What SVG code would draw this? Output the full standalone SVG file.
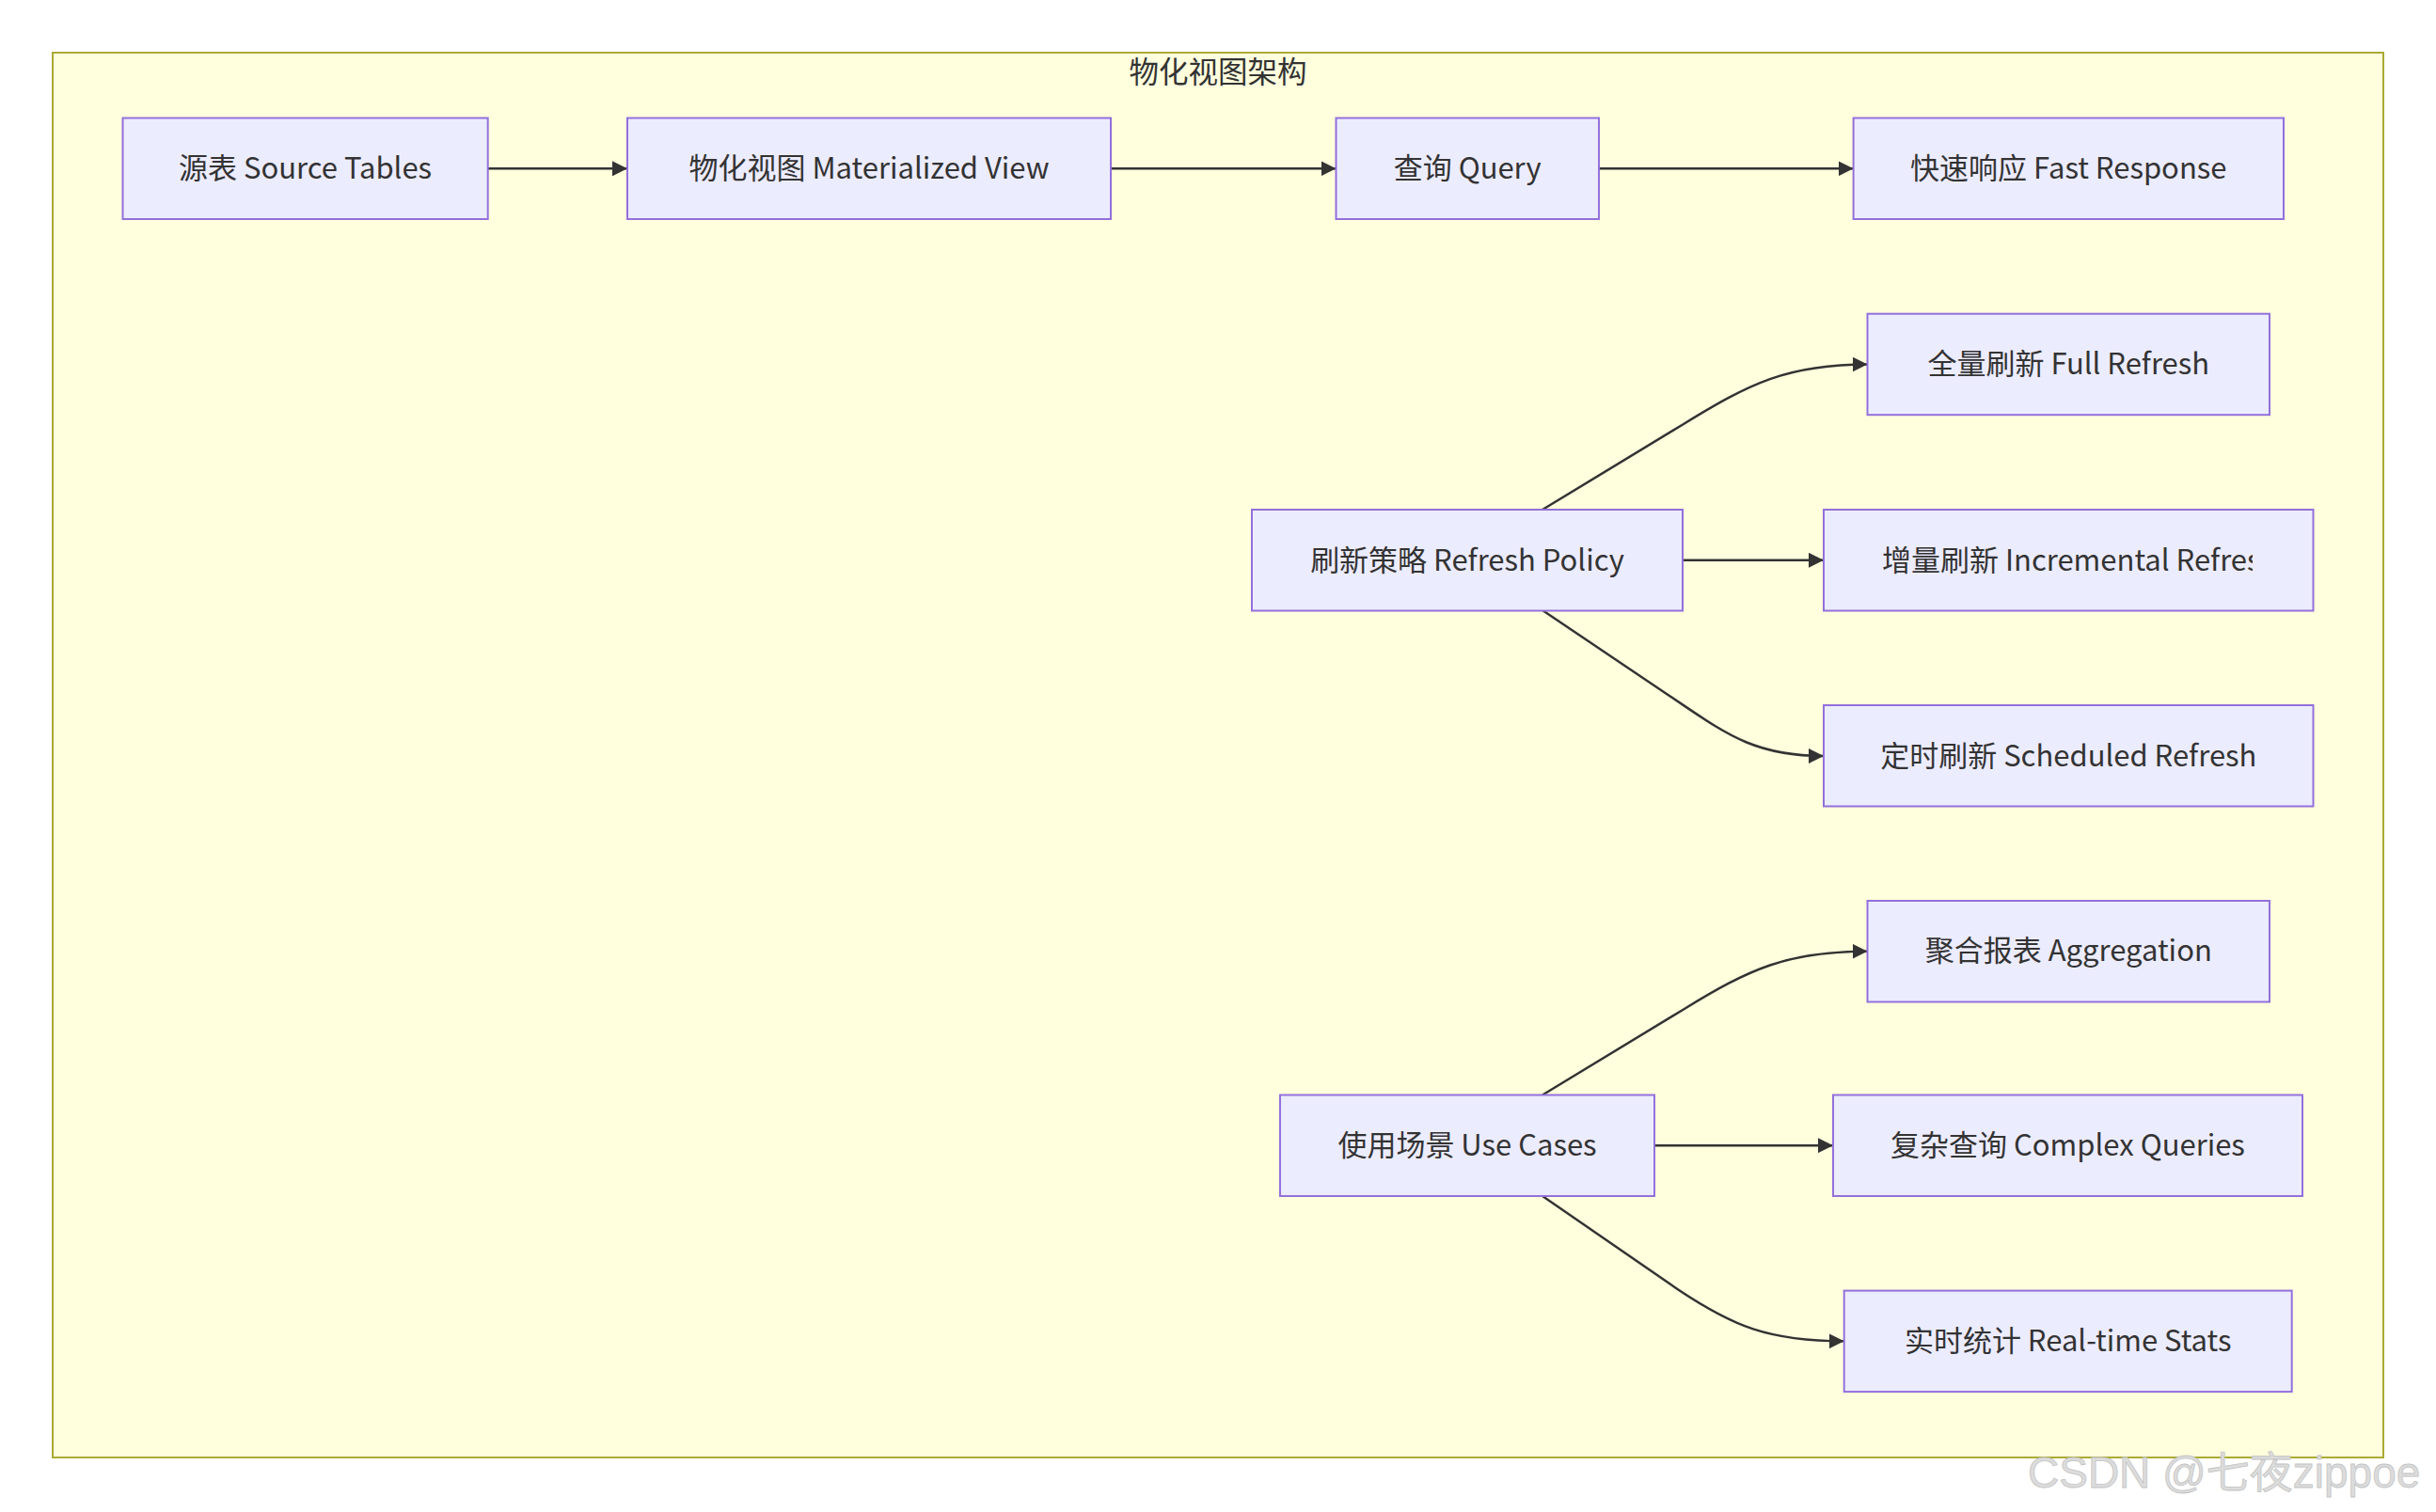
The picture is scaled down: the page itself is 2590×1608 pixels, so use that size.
<svg xmlns="http://www.w3.org/2000/svg" width="2590" height="1608" viewBox="0 0 2590 1608">
<style>
.frame{fill:#FFFFDE;stroke:#AAAA33;stroke-width:2}
.node rect{fill:#ECECFF;stroke:#9370DB;stroke-width:2}
.lbl{font-family:"Noto Sans CJK SC","Noto Sans",sans-serif;font-size:31px;fill:#333333;text-anchor:middle;dominant-baseline:central}
.title{font-family:"Noto Sans CJK SC","Noto Sans",sans-serif;font-size:31.5px;fill:#333333;text-anchor:middle}
.edge{fill:none;stroke:#333333;stroke-width:2.5;marker-end:url(#arrow)}
.wm{font-family:"Liberation Sans","Noto Sans CJK SC",sans-serif;font-size:46px;fill:#dcdcdc;stroke:#c4c4c4;stroke-width:0.8}
</style>
<defs>
<marker id="arrow" viewBox="0 0 10 10" refX="10" refY="5" markerUnits="userSpaceOnUse" markerWidth="16" markerHeight="16" orient="auto">
<path d="M0,0 L10,5 L0,10 z" fill="#333333"/>
</marker>
<clipPath id="clipInc"><rect x="1990" y="542" width="405" height="107"/></clipPath>
</defs>
<rect width="2590" height="1608" fill="#ffffff"/>
<g id="cluster">
<rect class="frame" x="56" y="56" width="2478" height="1494"/>
<text class="title" x="1295" y="88">物化视图架构</text>
</g>
<g id="connectors">
<path class="edge" d="M518.7,179.3 L667,179.3"/>
<path class="edge" d="M1181,179.3 L1420.5,179.3"/>
<path class="edge" d="M1700,179.3 L1970.6,179.3"/>
<path class="edge" d="M1640,542 L1790,451 C1860,408 1900,387.5 1985.5,387.5"/>
<path class="edge" d="M1789,595.8 L1939,595.8"/>
<path class="edge" d="M1640,649 L1772,738 C1832,778 1862,804 1939,804"/>
<path class="edge" d="M1640,1164.5 L1790,1073.5 C1860,1030.5 1900,1011.7 1985.5,1011.7"/>
<path class="edge" d="M1759,1218.2 L1949,1218.2"/>
<path class="edge" d="M1640,1272 L1785,1372 C1842,1410 1880,1426.3 1960.7,1426.3"/>
</g>
<g id="source" class="node"><rect x="130.5" y="125.5" width="388.2" height="107.5"/><text class="lbl" x="324.6" y="176.5">源表 Source Tables</text></g>
<g id="mview" class="node"><rect x="667" y="125.5" width="514" height="107.5"/><text class="lbl" x="924" y="176.5">物化视图 Materialized View</text></g>
<g id="query" class="node"><rect x="1420.5" y="125.5" width="279.5" height="107.5"/><text class="lbl" x="1560.2" y="176.5">查询 Query</text></g>
<g id="fast" class="node"><rect x="1970.6" y="125.5" width="457.4" height="107.5"/><text class="lbl" x="2199.3" y="176.5">快速响应 Fast Response</text></g>
<g id="full" class="node"><rect x="1985.5" y="333.7" width="427.5" height="107.5"/><text class="lbl" x="2199.3" y="384.7">全量刷新 Full Refresh</text></g>
<g id="policy" class="node"><rect x="1331" y="542" width="458" height="107.5"/><text class="lbl" x="1560" y="593">刷新策略 Refresh Policy</text></g>
<g id="incr" class="node"><rect x="1939" y="542" width="520.5" height="107.5"/><text class="lbl" x="2001" y="593" style="text-anchor:start" clip-path="url(#clipInc)">增量刷新 Incremental Refresh</text></g>
<g id="sched" class="node"><rect x="1939" y="750" width="520.5" height="107.5"/><text class="lbl" x="2199.3" y="801.2">定时刷新 Scheduled Refresh</text></g>
<g id="agg" class="node"><rect x="1985.5" y="958" width="427.5" height="107.5"/><text class="lbl" x="2199.3" y="1008.9">聚合报表 Aggregation</text></g>
<g id="usecases" class="node"><rect x="1361" y="1164.5" width="398" height="107.5"/><text class="lbl" x="1560" y="1215.4">使用场景 Use Cases</text></g>
<g id="complex" class="node"><rect x="1949" y="1164.5" width="499" height="107.5"/><text class="lbl" x="2198.5" y="1215.4">复杂查询 Complex Queries</text></g>
<g id="realtime" class="node"><rect x="1960.7" y="1372.6" width="476" height="107.5"/><text class="lbl" x="2198.7" y="1423.5">实时统计 Real-time Stats</text></g>
<text class="wm" x="2156" y="1582">CSDN @七夜zippoe</text>
</svg>
